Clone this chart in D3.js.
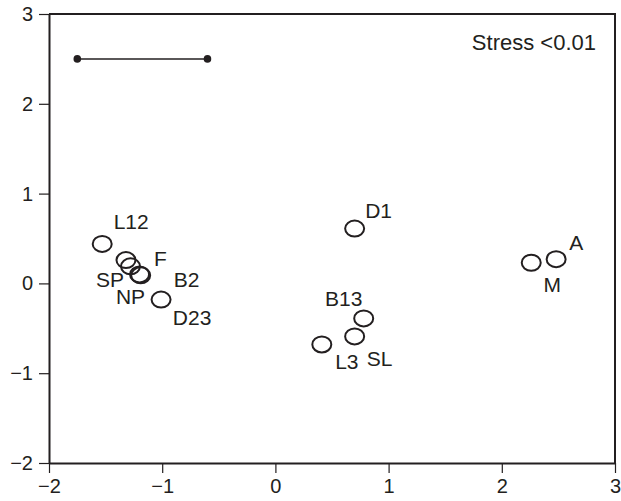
<!DOCTYPE html>
<meta charset="utf-8">
<style>
body { margin: 0; background: #fff; }
text { font-family: "Liberation Sans", Arial, sans-serif; fill: #231f20; }
.axis path, .axis line { stroke: #231f20; }
.axis text { font-size: 20px; }
.pt { fill: none; stroke: #231f20; stroke-width: 2px; }
.lbl { font-size: 21px; }
</style>
<body>
<script src="https://cdnjs.cloudflare.com/ajax/libs/d3/7.8.5/d3.min.js"></script>
<script>

var width = 621,
    height = 501;

// MDS coordinates
var names = ["L12", "SP", "F", "NP", "B2", "D23", "D1", "B13", "SL", "L3", "M", "A"];
var xs    = [-1.53, -1.32, -1.28, -1.20, -1.19, -1.01, 0.70, 0.78, 0.70, 0.41, 2.26, 2.48];
var ys    = [0.44, 0.26, 0.19, 0.10, 0.09, -0.18, 0.61, -0.39, -0.59, -0.68, 0.23, 0.27];

var xTicks = [-2, -1, 0, 1, 2, 3];
var yTicks = [-2, -1, 0, 1, 2, 3];

// scale bar
var barX = [-1.75, -0.6];
var barY = 2.5;
var stressText = "Stress <0.01";

var pts = names.map(function(n, i) { return {name: n, x: xs[i], y: ys[i]}; });

// where each label sits relative to its circle (pixels)
var labelOff = {
  L12: [29, -15], SP: [-16, 27], F: [30, 0], NP: [-9, 30], B2: [46, 12],
  D23: [31, 25], D1: [24, -11], B13: [-20, -12], SL: [25, 30], L3: [25, 25],
  M: [21, 29], A: [20, -9]
};

var margin = {top: 14, right: 6, bottom: 38, left: 49};

var x = d3.scaleLinear().domain([-2, 3]).range([margin.left, width - margin.right]);
var y = d3.scaleLinear().domain([-2, 3]).range([height - margin.bottom, margin.top]);

var svg = d3.select("body").append("svg")
    .attr("width", width)
    .attr("height", height);

var xAxis = svg.append("g")
    .attr("class", "axis")
    .attr("transform", "translate(0," + y(-2) + ")")
    .call(d3.axisBottom(x).tickValues(xTicks).tickSize(10).tickPadding(6)
      .tickSizeOuter(0).tickFormat(d3.format("d")));
xAxis.selectAll("text").text(function(d) { return d < 0 ? "\u2212" + (-d) : d; });

var yAxis = svg.append("g")
    .attr("class", "axis")
    .attr("transform", "translate(" + x(-2) + ",0)")
    .call(d3.axisLeft(y).tickValues(yTicks).tickSize(10).tickPadding(6)
      .tickSizeOuter(0));
yAxis.selectAll("text").text(function(d) { return d < 0 ? "\u2212" + (-d) : d; });

svg.selectAll(".axis path").attr("stroke-width", 2);
svg.selectAll(".axis line").attr("stroke-width", 1.2).attr("stroke", "#555");

// top and right frame
svg.append("path")
    .attr("d", "M" + x(-2) + "," + y(3) + "H" + x(3) + "V" + y(-2))
    .attr("fill", "none")
    .attr("stroke", "#231f20")
    .attr("stroke-width", 2);

// scale bar
svg.append("line")
    .attr("x1", x(barX[0])).attr("x2", x(barX[1]))
    .attr("y1", y(barY)).attr("y2", y(barY))
    .attr("stroke", "#231f20").attr("stroke-width", 1.5);
svg.selectAll(".bardot")
    .data(barX)
    .enter().append("circle")
    .attr("cx", function(d) { return x(d); })
    .attr("cy", y(barY))
    .attr("r", 3.8)
    .attr("fill", "#231f20");

svg.append("text")
    .attr("x", x(3) - 19)
    .attr("y", 50)
    .attr("text-anchor", "end")
    .style("font-size", "22px")
    .text(stressText);

svg.selectAll(".pt")
    .data(pts)
    .enter().append("ellipse")
    .attr("class", "pt")
    .attr("cx", function(d) { return x(d.x); })
    .attr("cy", function(d) { return y(d.y); })
    .attr("rx", 9.5)
    .attr("ry", 8);

svg.selectAll(".lbl")
    .data(pts)
    .enter().append("text")
    .attr("class", "lbl")
    .attr("text-anchor", "middle")
    .attr("x", function(d) { return x(d.x) + labelOff[d.name][0]; })
    .attr("y", function(d) { return y(d.y) + labelOff[d.name][1]; })
    .text(function(d) { return d.name; });

</script>
